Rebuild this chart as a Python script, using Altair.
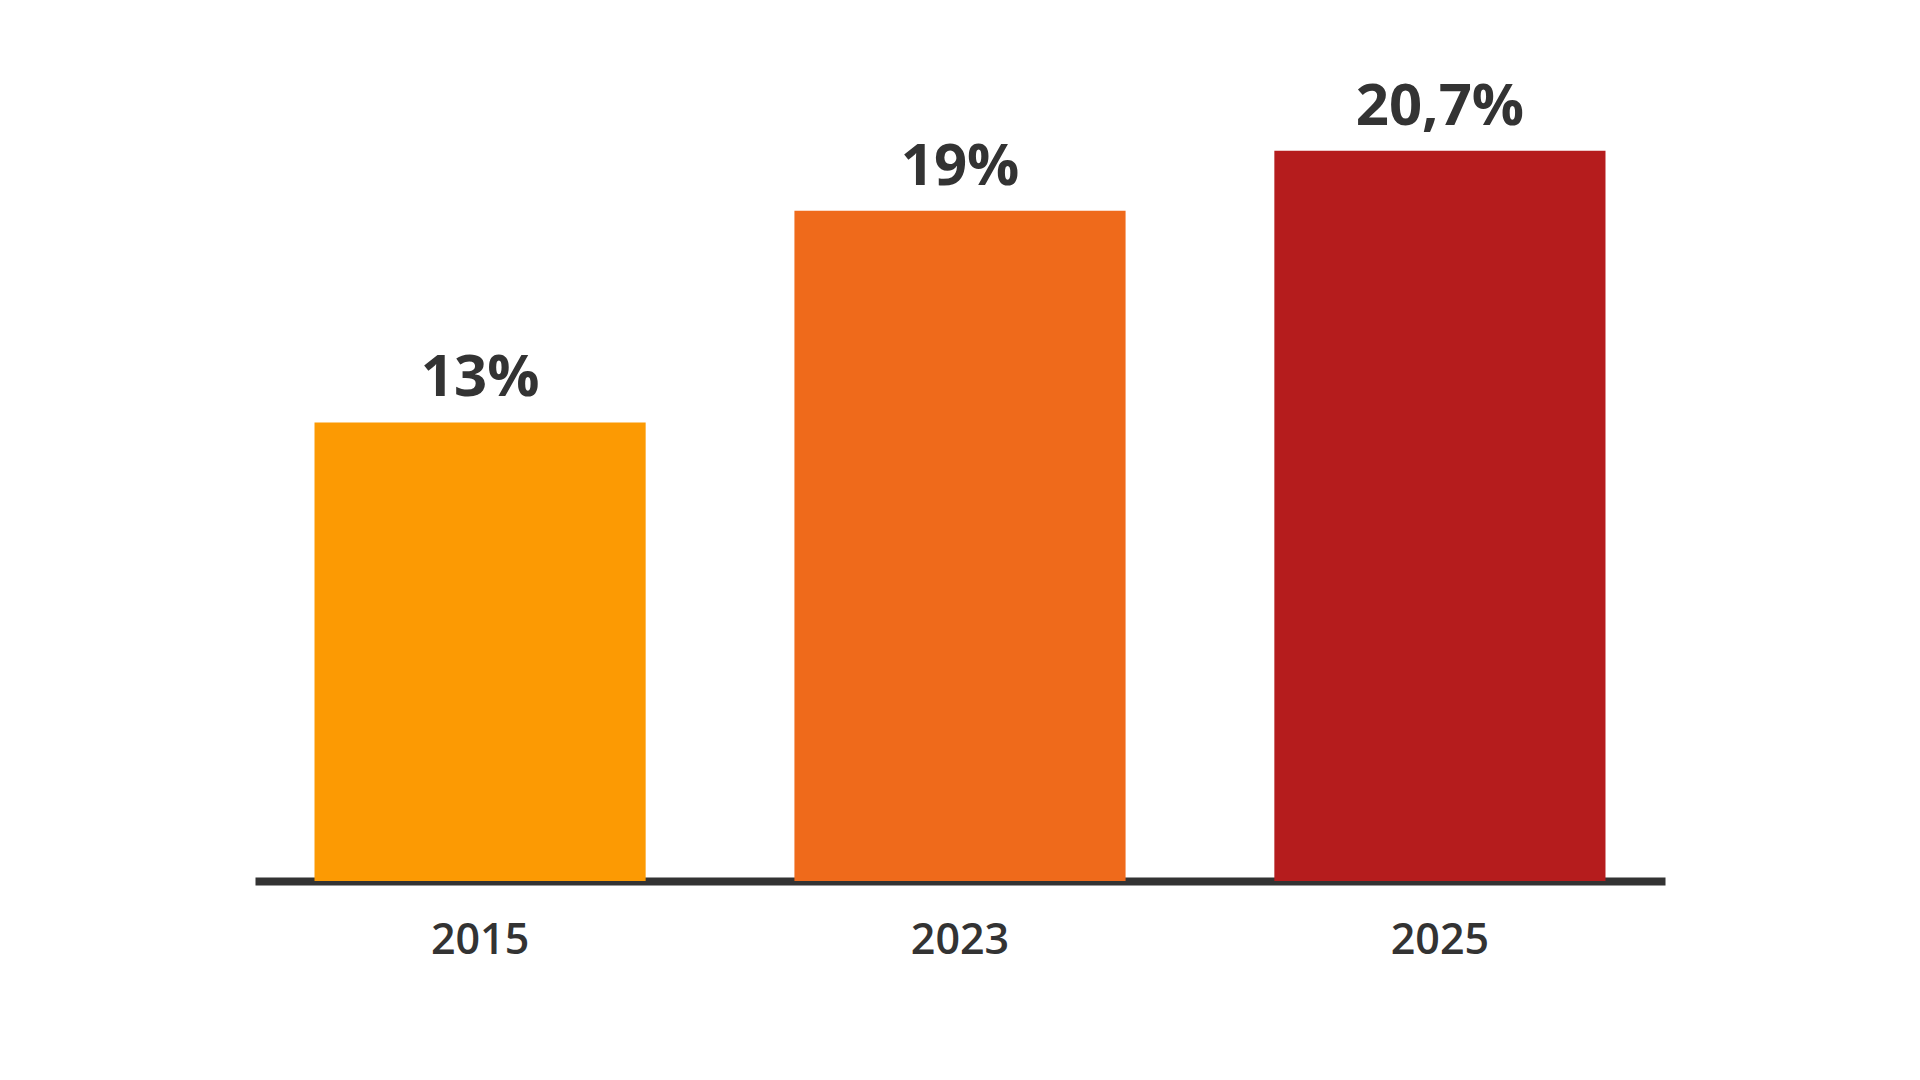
"""Bar chart of share by year, rebuilt with Altair."""

import pandas as pd
import altair as alt

years = ['2015', '2023', '2025']
values = [13, 19, 20.7]
labels = ['13%', '19%', '20,7%']
colors = ['#FC9A03', '#EF6A1B', '#B51C1D']

df = pd.DataFrame({'year': years, 'value': values, 'label': labels})

FONT = 'Open Sans'
TEXT = '#333333'

x = alt.X(
    'year:N', sort=years, title=None,
    scale=alt.Scale(paddingInner=0.31, paddingOuter=0.124),
    axis=alt.Axis(
        labelAngle=0, ticks=False, domainColor=TEXT, domainWidth=8,
        labelFont=FONT, labelFontSize=43, labelFontWeight=600,
        labelColor=TEXT, labelBaseline='alphabetic', labelPadding=72,
        grid=False,
    ),
)
y = alt.Y('value:Q', title=None, scale=alt.Scale(domain=[0, 22], nice=False),
          axis=None)

bars = (
    alt.Chart(df)
    .mark_bar()
    .encode(
        x=x, y=y,
        color=alt.Color('year:N', scale=alt.Scale(domain=years, range=colors),
                        legend=None),
    )
)

# Value labels above each bar
text = (
    alt.Chart(df)
    .mark_text(font=FONT, fontSize=58, fontWeight='bold', color=TEXT,
               baseline='alphabetic', dy=-26)
    .encode(x=alt.X('year:N', sort=years), y='value:Q', text='label:N')
)

chart = (
    alt.layer(bars, text)
    .properties(
        width=1410, height=776,
        autosize=alt.AutoSizeParams(type='none'),
        padding={'left': 247, 'top': 97, 'right': 247, 'bottom': 191},
        background='white',
    )
    .configure_view(stroke=None)
)

chart.save('out.html', embed_options={'renderer': 'svg', 'actions': False})
